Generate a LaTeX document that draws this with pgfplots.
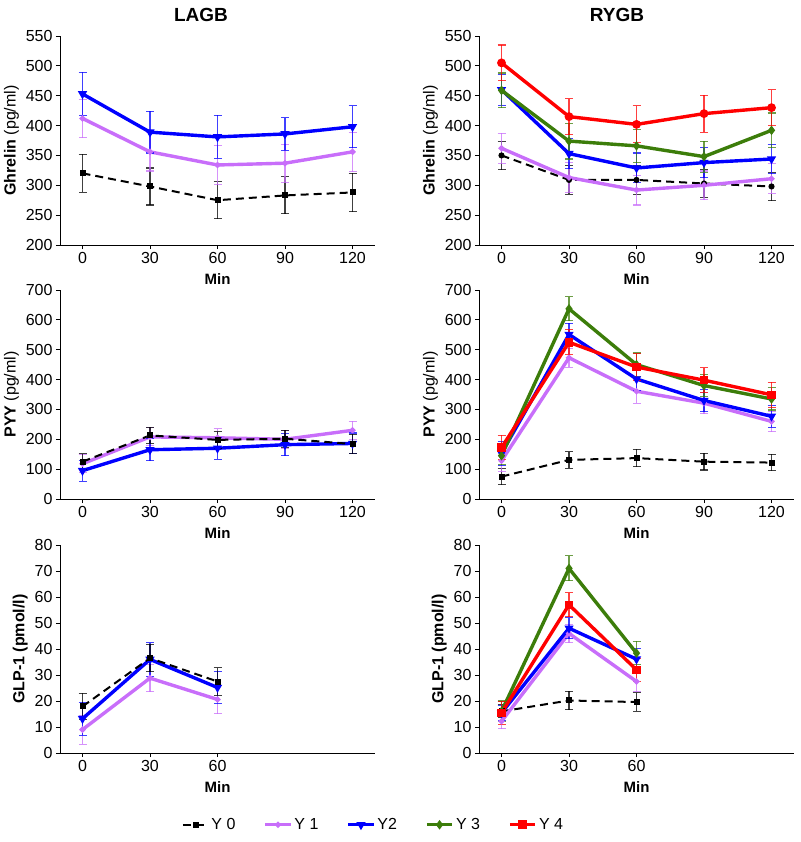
\documentclass[border=0pt]{standalone}
\usepackage{pgfplots}
\pgfplotsset{compat=1.18}
\usepackage{fontspec}
\setmainfont{Liberation Sans}
\definecolor{cY1}{RGB}{200,110,250}
\definecolor{cY2}{RGB}{0,0,255}
\definecolor{cY3}{RGB}{60,125,10}
\definecolor{cY4}{RGB}{255,0,0}
\pgfplotsset{
 prism/.style={scale only axis, width=315pt, height=209pt,
  axis lines*=left, axis line style={black,line width=0.9pt,-},
  xmin=-10, xmax=130, xtick={0,30,60,90,120},
  tick align=outside, major tick length=4pt, tick style={black,line width=0.9pt},
  ticklabel style={font=\fontsize{16}{18}\selectfont},
  xlabel={\textbf{Min}}, xlabel style={font=\fontsize{15}{17}\selectfont, yshift=-3pt},
  ylabel style={font=\fontsize{16}{18}\selectfont},
  /pgf/number format/assume math mode=true, clip=false},
 e/.style={error bars/.cd, y dir=both, y explicit,
  error bar style={solid,line width=1.1pt, opacity=0.75},
  error mark options={solid,line width=1.1pt,mark size=4pt, opacity=0.75, rotate=90}, /pgfplots/.cd},
 s0/.style={e, black, line width=2pt, dash pattern=on 8pt off 5pt, mark=square*, mark size=2pt, mark options={solid}},
 s1/.style={e, cY1, line width=3.4pt, mark=*, mark size=1pt},
 s2/.style={e, cY2, line width=3.4pt, mark=triangle*, mark size=2pt, mark options={rotate=180}},
 s3/.style={e, cY3, line width=3.4pt, mark=diamond*, mark size=2pt},
 s4/.style={e, cY4, line width=3.4pt, mark=*, mark size=2.6pt},
}
\begin{document}
\begin{tikzpicture}
\useasboundingbox (0,0) rectangle (800pt,-842pt);
\node[font=\bfseries\fontsize{19}{21}\selectfont] at (201pt,-15pt) {LAGB};
\node[font=\bfseries\fontsize{19}{21}\selectfont] at (617pt,-15pt) {RYGB};
% ---------- Top left: Ghrelin LAGB
\begin{axis}[prism, at={(60pt,-245pt)}, anchor=south west,
  ymin=200, ymax=550, ytick={200,250,...,550}, ylabel={\textbf{Ghrelin} (pg/ml)}]
\addplot[s0] coordinates {(0,320)+-(0,32) (30,298)+-(0,31) (60,275)+-(0,31) (90,283)+-(0,31) (120,288)+-(0,32)};
\addplot[s1] coordinates {(0,412)+-(0,32) (30,356)+-(0,32) (60,334)+-(0,32) (90,337)+-(0,32) (120,356)+-(0,33)};
\addplot[s2] coordinates {(0,453)+-(0,36) (30,389)+-(0,35) (60,381)+-(0,36) (90,386)+-(0,27) (120,398)+-(0,35)};
\end{axis}
% ---------- Top right: Ghrelin RYGB
\begin{axis}[prism, at={(479pt,-245pt)}, anchor=south west,
  ymin=200, ymax=550, ytick={200,250,...,550}, ylabel={\textbf{Ghrelin} (pg/ml)}]
\addplot[s0, mark=*] coordinates {(0,350)+-(0,24) (30,309)+-(0,24) (60,309)+-(0,24) (90,303)+-(0,24) (120,298)+-(0,24)};
\addplot[s1] coordinates {(0,362)+-(0,25) (30,313)+-(0,25) (60,292)+-(0,25) (90,300)+-(0,24) (120,311)+-(0,25)};
\addplot[s2] coordinates {(0,460)+-(0,26) (30,353)+-(0,25) (60,329)+-(0,25) (90,338)+-(0,25) (120,344)+-(0,25)};
\addplot[s3] coordinates {(0,459)+-(0,29) (30,374)+-(0,30) (60,366)+-(0,28) (90,348)+-(0,26) (120,392)+-(0,29)};
\addplot[s4] coordinates {(0,505)+-(0,30) (30,415)+-(0,30) (60,402)+-(0,31) (90,420)+-(0,31) (120,430)+-(0,30)};
\end{axis}
% ---------- Middle left: PYY LAGB
\begin{axis}[prism, at={(60pt,-499pt)}, anchor=south west,
  ymin=0, ymax=700, ytick={0,100,...,700}, ylabel={\textbf{PYY} (pg/ml)}]
\addplot[s1] coordinates {(0,118)+-(0,30) (30,208)+-(0,30) (60,205)+-(0,31) (90,200)+-(0,30) (120,230)+-(0,30)};
\addplot[s2] coordinates {(0,95)+-(0,35) (30,165)+-(0,37) (60,170)+-(0,37) (90,182)+-(0,37) (120,186)+-(0,35)};
\addplot[s0] coordinates {(0,125)+-(0,27) (30,213)+-(0,27) (60,198)+-(0,28) (90,202)+-(0,28) (120,184)+-(0,33)};
\end{axis}
% ---------- Middle right: PYY RYGB
\begin{axis}[prism, at={(479pt,-499pt)}, anchor=south west,
  ymin=0, ymax=700, ytick={0,100,...,700}, ylabel={\textbf{PYY} (pg/ml)}]
\addplot[s0] coordinates {(0,75)+-(0,27) (30,131)+-(0,28) (60,137)+-(0,29) (90,125)+-(0,28) (120,122)+-(0,28)};
\addplot[s1] coordinates {(0,128)+-(0,37) (30,473)+-(0,32) (60,361)+-(0,40) (90,321)+-(0,35) (120,260)+-(0,34)};
\addplot[s2] coordinates {(0,153)+-(0,40) (30,551)+-(0,38) (60,402)+-(0,38) (90,330)+-(0,37) (120,277)+-(0,37)};
\addplot[s3] coordinates {(0,145)+-(0,30) (30,637)+-(0,40) (60,450)+-(0,39) (90,380)+-(0,38) (120,335)+-(0,37)};
\addplot[s4, mark=square*] coordinates {(0,172)+-(0,41) (30,525)+-(0,42) (60,442)+-(0,44) (90,398)+-(0,41) (120,349)+-(0,42)};
\end{axis}
% ---------- Bottom left: GLP-1 LAGB
\begin{axis}[prism, height=208pt, at={(60pt,-753pt)}, anchor=south west,
  xtick={0,30,60}, ymin=0, ymax=80, ytick={0,10,...,80}, ylabel={\textbf{GLP-1 (pmol/l)}}]
\addplot[s1] coordinates {(0,9.0)+-(0,5.6) (30,28.8)+-(0,5.2) (60,20.6)+-(0,5.5)};
\addplot[s2] coordinates {(0,13.2)+-(0,6.3) (30,36)+-(0,6.5) (60,25.2)+-(0,6)};
\addplot[s0] coordinates {(0,17.9)+-(0,5) (30,36.5)+-(0,5.3) (60,27.5)+-(0,5.3)};
\end{axis}
% ---------- Bottom right: GLP-1 RYGB
\begin{axis}[prism, height=208pt, at={(479pt,-753pt)}, anchor=south west,
  xtick={0,30,60}, ymin=0, ymax=80, ytick={0,10,...,80}, ylabel={\textbf{GLP-1 (pmol/l)}},
  legend style={at={(-0.335,-0.345)}, anchor=center, draw=none, fill=none,
    legend columns=5, font=\fontsize{16}{18}\selectfont,
    /tikz/every even column/.append style={column sep=26pt}},
  legend image code/.code={\draw[mark repeat=2,mark phase=2] plot coordinates {(0cm,0cm) (0.45cm,0cm) (0.9cm,0cm)};},
  legend cell align=left]
\addplot[s0] coordinates {(0,16)+-(0,2.5) (30,20.2)+-(0,3.5) (60,19.6)+-(0,3.6)};
\addlegendentry{Y 0}
\addplot[s1] coordinates {(0,12.2)+-(0,2.8) (30,46)+-(0,3.5) (60,27.5)+-(0,4)};
\addlegendentry{Y 1}
\addplot[s2] coordinates {(0,15.4)+-(0,2.8) (30,48)+-(0,4) (60,36.1)+-(0,4)};
\addlegendentry{Y2}
\addplot[s3] coordinates {(0,16)+-(0,4) (30,71)+-(0,4.8) (60,38.4)+-(0,4.5)};
\addlegendentry{Y 3}
\addplot[s4, mark=square*] coordinates {(0,15.4)+-(0,4.3) (30,57)+-(0,4.6) (60,32)+-(0,4.4)};
\addlegendentry{Y 4}
\end{axis}
\end{tikzpicture}
\end{document}
